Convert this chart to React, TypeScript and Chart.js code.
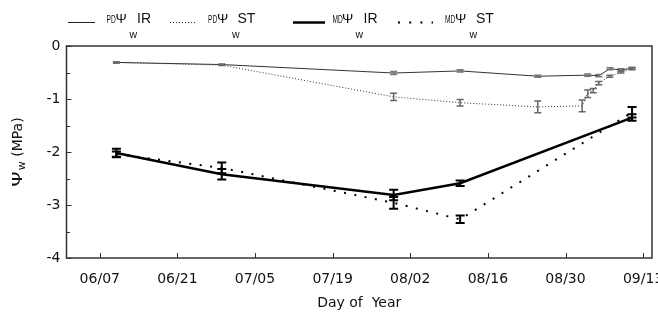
import React, { useEffect, useRef } from "react";
import { Chart, registerables } from "chart.js";

Chart.register(...registerables);

// ---- data (day of year, MPa) ----
const xTickDays = [158, 172, 186, 200, 214, 228, 242, 256];
const xTickLabels = ["06/07", "06/21", "07/05", "07/19", "08/02", "08/16", "08/30", "09/13"];
const yTickValues = [0, -0.5, -1, -1.5, -2, -2.5, -3, -3.5, -4];

const pdIrDays = [161, 180, 211, 223, 237, 246, 248, 250, 252, 254];
const pdIrValues = [-0.31, -0.35, -0.51, -0.47, -0.57, -0.55, -0.56, -0.43, -0.45, -0.42];
const pdIrErrors = [0.01, 0.01, 0.03, 0.02, 0.02, 0.02, 0.02, 0.02, 0.02, 0.02];

const pdStDays = [161, 180, 211, 223, 237, 245, 246, 247, 248, 250, 252, 254];
const pdStValues = [-0.31, -0.36, -0.96, -1.07, -1.15, -1.13, -0.9, -0.84, -0.7, -0.57, -0.49, -0.43];
const pdStErrors = [0.01, 0.01, 0.07, 0.06, 0.11, 0.11, 0.07, 0.04, 0.03, 0.02, 0.02, 0.02];

const mdIrDays = [161, 180, 211, 223, 254];
const mdIrValues = [-2.02, -2.42, -2.81, -2.59, -1.35];
const mdIrErrors = [0.08, 0.1, 0.1, 0.05, 0.06];

const mdStDays = [161, 180, 211, 223, 254];
const mdStValues = [-2.04, -2.3, -2.96, -3.27, -1.25];
const mdStErrors = [0.05, 0.1, 0.11, 0.07, 0.1];

const toPoints = (d: number[], v: number[]) => d.map((x, i) => ({ x, y: v[i] }));

const errorSets = [
  { days: pdIrDays, values: pdIrValues, errors: pdIrErrors, color: "#777", width: 1.5, cap: 3.5 },
  { days: pdStDays, values: pdStValues, errors: pdStErrors, color: "#666", width: 1.5, cap: 3.5 },
  { days: mdIrDays, values: mdIrValues, errors: mdIrErrors, color: "#000", width: 2, cap: 4.5 },
  { days: mdStDays, values: mdStValues, errors: mdStErrors, color: "#000", width: 2, cap: 4.5 },
];

const TICK_FONT = "DejaVu Sans";
const LEG_FONT = "Liberation Sans";

const customPlugin = {
  id: "custom",
  afterDatasetsDraw(chart: any) {
    const ctx = chart.ctx;
    const xs = chart.scales.x;
    const ys = chart.scales.y;
    ctx.save();
    errorSets.forEach((s) => {
      ctx.strokeStyle = s.color;
      ctx.lineWidth = s.width;
      s.days.forEach((d, i) => {
        const x = xs.getPixelForValue(d);
        const y1 = ys.getPixelForValue(s.values[i] + s.errors[i]);
        const y2 = ys.getPixelForValue(s.values[i] - s.errors[i]);
        ctx.beginPath();
        ctx.moveTo(x, y1);
        ctx.lineTo(x, y2);
        ctx.moveTo(x - s.cap, y1);
        ctx.lineTo(x + s.cap, y1);
        ctx.moveTo(x - s.cap, y2);
        ctx.lineTo(x + s.cap, y2);
        ctx.stroke();
      });
    });
    ctx.restore();
  },
  afterDraw(chart: any) {
    const ctx = chart.ctx;
    const a = chart.chartArea;
    const xs = chart.scales.x;
    const ys = chart.scales.y;
    ctx.save();
    // frame
    ctx.strokeStyle = "#333";
    ctx.lineWidth = 1.5;
    ctx.strokeRect(a.left, a.top, a.right - a.left, a.bottom - a.top);
    // inward ticks
    ctx.lineWidth = 1;
    ctx.beginPath();
    xTickDays.forEach((d) => {
      const x = Math.round(xs.getPixelForValue(d)) + 0.5;
      ctx.moveTo(x, a.bottom);
      ctx.lineTo(x, a.bottom - 5);
    });
    yTickValues.forEach((v) => {
      const y = Math.round(ys.getPixelForValue(v)) + 0.5;
      const len = Number.isInteger(v) ? 5 : 3.5;
      ctx.moveTo(a.left, y);
      ctx.lineTo(a.left + len, y);
    });
    ctx.stroke();

    // x title
    ctx.fillStyle = "#111";
    ctx.font = `14px "${TICK_FONT}"`;
    ctx.textAlign = "center";
    ctx.textBaseline = "alphabetic";
    ctx.fillText("Day of  Year", (a.left + a.right) / 2, 307);

    // y title (rotated) Ψw (MPa)
    ctx.save();
    ctx.translate(21.5, (a.top + a.bottom) / 2);
    ctx.rotate(-Math.PI / 2);
    ctx.textAlign = "left";
    const bigFont = `14px "${TICK_FONT}"`;
    const psiFont = `14px "${TICK_FONT}"`;
    const subFont = `11px "${TICK_FONT}"`;
    const psiStretch = 1.4;
    ctx.font = psiFont;
    const wPsi = ctx.measureText("Ψ").width * psiStretch;
    ctx.font = bigFont;
    const wRest = ctx.measureText(" (MPa)").width;
    ctx.font = subFont;
    const wW = ctx.measureText("w").width;
    const total = wPsi + wW + wRest + 1;
    let cx = -total / 2;
    ctx.save();
    ctx.translate(cx, 0);
    ctx.scale(psiStretch, 1);
    ctx.font = psiFont;
    ctx.fillText("Ψ", 0, 0);
    ctx.restore();
    cx += wPsi + 1;
    ctx.font = subFont;
    ctx.fillText("w", cx, 3.5);
    cx += wW;
    ctx.font = bigFont;
    ctx.fillText(" (MPa)", cx, 0);
    ctx.restore();

    // legend
    const ly = 22.5;
    const drawLabel = (pre: string, preX: number, psiX: number, wX: number, lab: string, labX: number) => {
      ctx.fillStyle = "#111";
      ctx.textAlign = "left";
      ctx.save();
      ctx.translate(preX, 22.5);
      ctx.scale(0.66, 1);
      ctx.font = `10px "${LEG_FONT}"`;
      ctx.fillText(pre, 0, 0);
      ctx.restore();
      ctx.font = `13.5px "${LEG_FONT}"`;
      ctx.fillText("Ψ", psiX, 22.5);
      ctx.font = `10.5px "${LEG_FONT}"`;
      ctx.fillText("w", wX, 37.5);
      ctx.font = `14px "${LEG_FONT}"`;
      ctx.fillText(lab, labX, 22.5);
    };
    ctx.strokeStyle = "#222";
    // item 1 thin solid
    ctx.lineWidth = 1;
    ctx.setLineDash([]);
    ctx.beginPath();
    ctx.moveTo(68, ly);
    ctx.lineTo(95, ly);
    ctx.stroke();
    drawLabel("PD", 106.5, 115.5, 129.5, "IR", 137);
    // item 2 thin dotted
    ctx.setLineDash([1, 2]);
    ctx.beginPath();
    ctx.moveTo(170, ly);
    ctx.lineTo(195, ly);
    ctx.stroke();
    ctx.setLineDash([]);
    drawLabel("PD", 208, 217, 232, "ST", 237.5);
    // item 3 thick solid
    ctx.strokeStyle = "#000";
    ctx.lineWidth = 2.5;
    ctx.beginPath();
    ctx.moveTo(293, ly);
    ctx.lineTo(325, ly);
    ctx.stroke();
    drawLabel("MD", 332.5, 342, 355.5, "IR", 363.5);
    // item 4 big dots
    ctx.lineWidth = 2;
    ctx.setLineDash([2, 9.2]);
    ctx.beginPath();
    ctx.moveTo(398, ly);
    ctx.lineTo(433, ly);
    ctx.stroke();
    ctx.setLineDash([]);
    drawLabel("MD", 445, 455, 469.5, "ST", 476);
    ctx.restore();
  },
};

export default function App() {
  const ref = useRef<HTMLCanvasElement>(null);
  useEffect(() => {
    document.body.style.margin = "0";
    const chart = new Chart(ref.current as HTMLCanvasElement, {
      type: "line",
      data: {
        datasets: [
          {
            label: "PD IR",
            data: toPoints(pdIrDays, pdIrValues),
            borderColor: "#333",
            borderWidth: 1,
            pointRadius: 0,
            fill: false,
          },
          {
            label: "PD ST",
            data: toPoints(pdStDays, pdStValues),
            borderColor: "#333",
            borderWidth: 1,
            borderDash: [1, 2],
            pointRadius: 0,
            fill: false,
          },
          {
            label: "MD IR",
            data: toPoints(mdIrDays, mdIrValues),
            borderColor: "#000",
            borderWidth: 2.5,
            pointRadius: 0,
            fill: false,
          },
          {
            label: "MD ST",
            data: toPoints(mdStDays, mdStValues),
            borderColor: "#000",
            borderWidth: 2,
            borderDash: [2, 8.5],
            pointRadius: 0,
            fill: false,
          },
        ],
      },
      options: {
        animation: false,
        responsive: false,
        devicePixelRatio: 1,
        layout: { padding: { top: 46, right: 6, left: 0, bottom: 0 } },
        plugins: { legend: { display: false }, tooltip: { enabled: false }, title: { display: false } },
        scales: {
          x: {
            type: "linear",
            min: 152,
            max: 257.6,
            grid: { display: false, drawTicks: false },
            border: { display: false },
            afterBuildTicks: (s: any) => {
              s.ticks = xTickDays.map((v) => ({ value: v }));
            },
            afterFit: (s: any) => {
              s.height = 63;
              s.paddingLeft = 0;
              s.paddingRight = 0;
            },
            ticks: {
              autoSkip: false,
              maxRotation: 0,
              padding: 13,
              color: "#111",
              font: { family: TICK_FONT, size: 14 },
              callback: (v: any) => {
                const i = xTickDays.indexOf(Number(v));
                return i >= 0 ? xTickLabels[i] : "";
              },
            },
          },
          y: {
            type: "linear",
            min: -4,
            max: 0,
            grid: { display: false, drawTicks: false },
            border: { display: false },
            afterBuildTicks: (s: any) => {
              s.ticks = yTickValues.map((v) => ({ value: v }));
            },
            afterFit: (s: any) => {
              s.width = 66.5;
              s.paddingTop = 0;
              s.paddingBottom = 0;
            },
            ticks: {
              autoSkip: false,
              padding: 6,
              color: "#111",
              font: { family: TICK_FONT, size: 14 },
              callback: (v: any) => (Number.isInteger(Number(v)) ? String(v) : ""),
            },
          },
        },
      },
      plugins: [customPlugin],
    });
    return () => chart.destroy();
  }, []);
  return (
    <div style={{ position: "fixed", left: 0, top: 0, width: 658, height: 321, background: "#fff" }}>
      <canvas ref={ref} width={658} height={321} style={{ width: 658, height: 321 }} />
    </div>
  );
}
